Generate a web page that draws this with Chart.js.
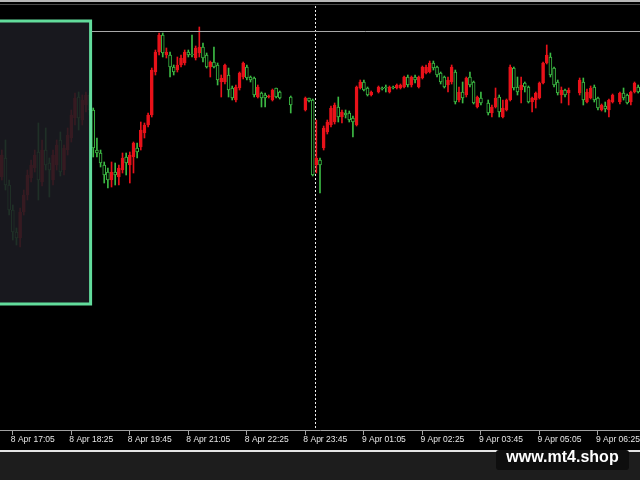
<!DOCTYPE html>
<html><head><meta charset="utf-8">
<script src="https://cdn.jsdelivr.net/npm/chart.js@4.4.1/dist/chart.umd.min.js"></script>
<style>
html,body{margin:0;padding:0;background:#000;width:640px;height:480px;overflow:hidden;}
#c{position:absolute;left:0;top:0;}
#top1{position:absolute;left:0;top:0;width:640px;height:2px;background:#b8b8b8;}
#top2{position:absolute;left:0;top:4px;width:640px;height:1px;background:#4a4a4a;}
#band{position:absolute;left:0;top:450px;width:640px;height:30px;background:#1d1d1d;border-top:2px solid #e4e4e4;box-sizing:border-box;}
#wmbox{position:absolute;left:496px;top:450px;width:133px;height:20px;background:#0e0e0e;border-radius:3px;}
#wm{position:absolute;left:496px;top:449px;width:133px;text-align:center;color:#fff;font:bold 16px "Liberation Sans",Arial,sans-serif;line-height:16px;white-space:nowrap;}
</style></head>
<body>
<canvas id="c" width="640" height="451"></canvas>
<div id="top1"></div><div id="top2"></div>
<div id="band"></div><div id="wmbox"></div><div id="wm">www.mt4.shop</div>
<script>
// ---- data (M5 candles, price in chart units) ----
const openP = [323,342,315,290,268,262,288,305,322,332,348,318,350,337,320,335,360,330,350,362,382,403,380,395,405,
390,350,347,335,328,320,328,323,330,343,335,343,352,353,367,375,385,428,448,465,445,445,433,430,435,437,448,446,442,447,
453,445,433,438,435,418,418,425,412,400,412,423,433,423,422,403,407,405,403,400,412,408,null,null,403,null,null,null,390,402,
400,335,340,352,368,375,378,393,383,387,387,382,375,412,418,412,405,null,408,412,413,408,413,412,412,413,423,415,423,413,
422,427,428,437,433,427,423,415,418,428,400,408,405,423,418,393,402,null,397,387,393,403,383,390,400,432,413,410,417,413,
398,400,402,417,437,443,432,418,405,410,407,null,null,407,418,398,402,413,402,390,394,390,398,null,398,407,405,398,408,413];
const highP = [350,360,320,295,272,292,310,330,340,350,377,360,372,342,350,360,368,355,372,390,407,408,405,408,407,
392,362,350,338,332,338,337,335,347,347,348,358,357,378,377,387,432,450,467,467,452,448,435,443,445,450,450,465,454,473,
457,447,439,453,437,425,436,432,414,415,428,438,435,424,423,415,408,407,405,411,412,409,null,null,404,null,null,null,403,402,
401,380,342,374,380,394,397,403,390,390,389,384,414,420,420,413,409,null,414,413,415,414,414,416,416,424,425,424,425,424,
434,435,439,439,434,428,424,423,435,430,413,418,423,428,419,404,408,null,400,395,412,405,400,401,435,433,423,423,418,414,
403,408,418,438,455,447,433,420,413,411,412,null,null,422,422,411,414,415,403,396,398,401,406,null,408,412,406,409,418,415];
const lowP = [320,310,285,260,255,253,285,300,318,328,300,314,330,303,315,330,324,325,345,358,375,370,375,388,385,
343,343,333,317,312,313,315,315,327,325,317,327,342,350,362,373,383,425,445,443,442,423,425,428,433,435,443,443,440,443,
438,432,423,432,415,403,416,403,400,398,410,421,420,418,403,402,393,393,402,399,402,401,null,null,387,null,null,null,389,398,
324,327,307,350,366,373,376,378,377,382,378,363,374,411,409,404,404,null,407,410,408,407,411,411,411,412,413,413,417,412,
421,426,427,430,423,416,412,408,416,396,398,397,403,413,396,392,395,null,385,383,392,383,382,389,399,410,405,397,408,397,
388,392,401,416,436,423,413,405,397,403,395,null,null,405,395,397,401,398,390,389,388,383,397,null,396,400,396,395,407,407];
const closeP = [345,315,290,268,262,288,305,325,335,345,320,350,335,330,345,355,328,352,365,385,402,382,400,405,390,
352,347,337,325,320,328,325,332,342,337,345,357,348,370,375,385,430,448,465,447,448,433,428,435,442,448,445,445,452,453,
442,433,438,433,420,422,435,410,402,413,427,437,422,420,405,413,402,402,404,410,403,402,null,null,395,null,null,null,402,399,
325,342,335,372,378,392,395,383,388,385,380,378,413,418,410,405,408,null,413,411,412,413,412,415,415,423,415,423,420,423,
433,433,437,432,425,418,413,420,433,398,408,402,422,415,397,403,397,null,387,393,402,388,392,400,433,412,408,415,413,398,
402,407,417,437,445,425,415,407,410,405,410,null,null,420,400,408,412,400,392,395,391,400,405,null,407,402,397,408,417,408];

// time categories: 5-minute bars starting 8 Apr 16:50
const monthNames = ['Jan','Feb','Mar','Apr','May','Jun','Jul','Aug','Sep','Oct','Nov','Dec'];
const categories = [];
for (let i = 0; i < openP.length; i++) {
  const d = new Date(2024, 3, 8, 16, 50 + 5 * i);
  categories.push(d.getDate() + ' ' + monthNames[d.getMonth()] + ' ' +
    String(d.getHours()).padStart(2,'0') + ':' + String(d.getMinutes()).padStart(2,'0'));
}
const tickLabels = ['8 Apr 17:05','8 Apr 18:25','8 Apr 19:45','8 Apr 21:05','8 Apr 22:25','8 Apr 23:45',
  '9 Apr 01:05','9 Apr 02:25','9 Apr 03:45','9 Apr 05:05','9 Apr 06:25'];

// chart objects
const levelPrice = 469;          // horizontal price line
const boxTopPrice = 479, boxBottomPrice = 196, boxEndIndex = 24;  // rectangle object
const separatorIndex = 85;       // period separator

// ---- styles ----
const UP = '#e8121a', DOWN = '#3cba44';
const isUp = openP.map((o,i) => o !== null && closeP[i] >= o);
const bodies = openP.map((o,i) => o === null ? null : [o, closeP[i]]);
const wicks = lowP.map((l,i) => l === null ? null : [l, highP[i]]);

const overlay = {
  id: 'overlay',
  beforeDatasetsDraw(chart) {
    const {ctx, scales:{x}, chartArea} = chart;
    const sx = Math.round((x.getPixelForValue(separatorIndex) + x.getPixelForValue(separatorIndex + 1)) / 2) + 0.5;
    ctx.save();
    ctx.strokeStyle = '#f0f0f0'; ctx.lineWidth = 1; ctx.setLineDash([2,2]);
    ctx.beginPath(); ctx.moveTo(sx, 6); ctx.lineTo(sx, chartArea.bottom); ctx.stroke();
    ctx.restore();
  },
  afterDatasetsDraw(chart) {
    const {ctx, scales:{x,y}, chartArea} = chart;
    const bx = x.getPixelForValue(boxEndIndex) + 1;
    const by1 = y.getPixelForValue(boxTopPrice), by2 = y.getPixelForValue(boxBottomPrice);
    ctx.save();
    const ly = Math.round(y.getPixelForValue(levelPrice)) + 0.5;
    ctx.strokeStyle = '#a8a8a8'; ctx.lineWidth = 1;
    ctx.beginPath(); ctx.moveTo(bx, ly); ctx.lineTo(chartArea.right, ly); ctx.stroke();
    ctx.fillStyle = 'rgba(28,28,34,0.87)';
    ctx.fillRect(-10, by1, bx + 10, by2 - by1);
    ctx.strokeStyle = '#62dc9c'; ctx.lineWidth = 3;
    ctx.strokeRect(-10, by1, bx + 10, by2 - by1);
    ctx.restore();
  }
};

new Chart(document.getElementById('c'), {
  type: 'bar',
  data: {
    labels: categories,
    datasets: [
      { label: 'body', data: bodies, grouped: false, barThickness: 3, minBarLength: 1,
        backgroundColor: isUp.map(u => u ? UP : '#000'),
        borderColor: isUp.map(u => u ? UP : DOWN),
        borderWidth: 1, borderSkipped: false },
      { label: 'wick', data: wicks, grouped: false, barThickness: 1,
        backgroundColor: isUp.map(u => u ? UP : DOWN), borderWidth: 0 }
    ]
  },
  options: {
    responsive: false, animation: false, devicePixelRatio: 1,
    layout: { padding: 0 },
    plugins: { legend: { display: false }, tooltip: { enabled: false } },
    scales: {
      x: {
        offset: true,
        grid: { offset: false, drawOnChartArea: false, drawTicks: true, tickLength: 5, color: '#a0a0a0' },
        border: { display: true, color: '#a0a0a0' },
        ticks: { autoSkip: false, maxRotation: 0, minRotation: 0, align: 'start', padding: 0, labelOffset: -2,
          color: '#e6e6e6', font: { family: 'Liberation Sans', size: 8.5 },
          callback: (v, i) => tickLabels.includes(categories[i]) ? categories[i] : null },
        afterFit: s => { s.height = 21; s.paddingLeft = 0; s.paddingRight = 0; }
      },
      y: { display: false, min: 70, max: 500 }
    }
  },
  plugins: [overlay]
});
</script>
</body></html>
